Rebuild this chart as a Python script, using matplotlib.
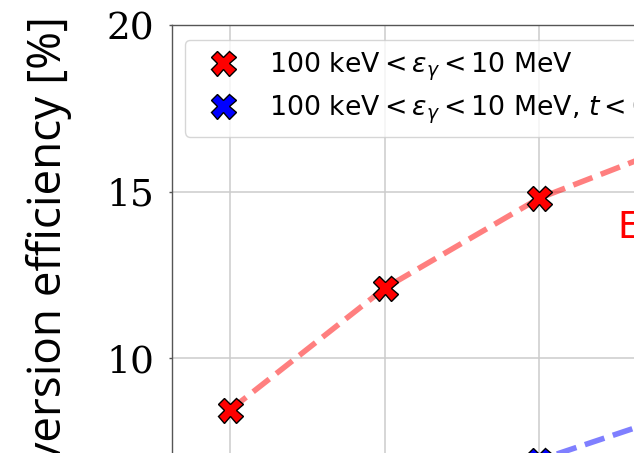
import matplotlib.pyplot as plt
import numpy as np

# conversion efficiency for the two photon selections
x_vals = [1, 2, 3, 4]
eff_all = [8.45, 12.1, 14.8, 16.6]
eff_early = [2.2, 4.9, 6.95, 8.5]

label_all = r'100 keV$<\varepsilon_\gamma<$10 MeV'
label_early = r'100 keV$<\varepsilon_\gamma<$10 MeV, $t<$0.5 ps'

W, H = 634, 453
fig = plt.figure(figsize=(W/100, H/100), dpi=100)

# axes frame in pixels (left, top) and data scale
px_left, px_top = 172, 25
px_per_x, px_per_y = 154.5, 500/15
xlim = (1 - 58/px_per_x, 5.0)
ylim = (0, 20)
ax_w = (xlim[1]-xlim[0])*px_per_x
ax_h = (ylim[1]-ylim[0])*px_per_y
ax = fig.add_axes([px_left/W, 1 - (px_top+ax_h)/H, ax_w/W, ax_h/H])

ax.plot(x_vals, eff_all, color='red', linestyle='--', linewidth=4, alpha=0.5, zorder=2)
ax.plot(x_vals, eff_early, color='blue', linestyle='--', linewidth=4, alpha=0.5, zorder=2)
ax.plot(x_vals, eff_all, linestyle='none', marker='X', markersize=18,
        markerfacecolor='red', markeredgecolor='black', markeredgewidth=1,
        label=label_all, zorder=3)
ax.plot(x_vals, eff_early, linestyle='none', marker='X', markersize=18,
        markerfacecolor='blue', markeredgecolor='black', markeredgewidth=1,
        label=label_early, zorder=3)

ax.text(3.51, 13.6, 'Efficiency', color='red', fontsize=26.5, va='baseline')

ax.set_xlim(xlim)
ax.set_ylim(ylim)
ax.set_xticks([1, 2, 3, 4])
ax.set_xticklabels([])
ax.set_yticks([0, 5, 10, 15, 20])
ax.grid(True, color='#cccccc', linewidth=1.1)
ax.set_axisbelow(True)
for s in ax.spines.values():
    s.set_color('#555555')
    s.set_linewidth(1.0)
ax.tick_params(axis='y', length=2, width=1, color='#555555', pad=11, labelsize=27)
for t in ax.get_yticklabels():
    t.set_family('DejaVu Serif')

fig.text(49/W, 1 - 16/H, 'Conversion efficiency [%]', rotation=90,
         ha='center', va='top', fontsize=33, family='Open Sans')

ax.legend(loc='upper left', bbox_to_anchor=(185/W, 1 - 40/H),
          bbox_transform=fig.transFigure, borderaxespad=0,
          fontsize=19.3, numpoints=1, labelspacing=0.4,
          handletextpad=0.75)

fig.savefig('out.png', dpi=100)
